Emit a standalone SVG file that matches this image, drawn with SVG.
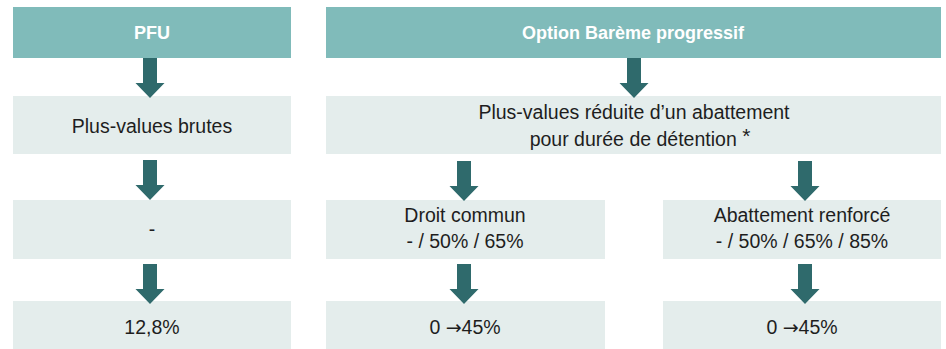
<svg xmlns="http://www.w3.org/2000/svg" width="946" height="349" viewBox="0 0 946 349">
<defs>
<style>
.hdr{fill:#80BBBA;}
.box{fill:#E4EDEC;}
.ht{font-family:"Liberation Sans",Arial,sans-serif;font-weight:bold;font-size:18px;fill:#ffffff;text-anchor:middle;}
.bt{font-family:"Liberation Sans",Arial,sans-serif;font-size:19.5px;fill:#1e1e1e;text-anchor:middle;}
.ar{font-family:"DejaVu Sans",sans-serif;font-size:19px;}
.arr{fill:#2F6A6C;}
</style>
<path id="arrow" class="arr" d="M-7,0 H7 V25 H14.5 L0,40 L-14.5,25 H-7 Z"/>
</defs>
<rect width="946" height="349" fill="#ffffff"/>
<g id="pfu">
<rect class="hdr" x="13" y="7" width="278" height="51"/>
<text class="ht" x="152" y="39">PFU</text>
</g>
<g id="bareme">
<rect class="hdr" x="326" y="7" width="615" height="51"/>
<text class="ht" x="633" y="39">Option Barème progressif</text>
</g>
<g id="pv-brutes">
<rect class="box" x="13" y="96" width="278" height="58"/>
<text class="bt" x="152" y="133">Plus-values brutes</text>
</g>
<g id="pv-reduite">
<rect class="box" x="326" y="96" width="615" height="58"/>
<text class="bt" x="634" y="119">Plus-values réduite d’un abattement</text>
<text class="bt" x="640" y="146">pour durée de détention <tspan font-size="21" dy="-3">*</tspan></text>
</g>
<g id="pfu-abattement">
<rect class="box" x="13" y="200" width="278" height="59"/>
<text class="bt" x="152" y="236">-</text>
</g>
<g id="droit-commun">
<rect class="box" x="326" y="200" width="279" height="59"/>
<text class="bt" x="465" y="222">Droit commun</text>
<text class="bt" x="465" y="248">- / 50% / 65%</text>
</g>
<g id="abattement-renforce">
<rect class="box" x="663" y="200" width="278" height="59"/>
<text class="bt" x="802" y="222">Abattement renforcé</text>
<text class="bt" x="802" y="248">- / 50% / 65% / 85%</text>
</g>
<g id="taux-pfu">
<rect class="box" x="13" y="301" width="278" height="48"/>
<text class="bt" x="152" y="334">12,8%</text>
</g>
<g id="taux-dc">
<rect class="box" x="326" y="301" width="279" height="48"/>
<text class="bt" x="465" y="334">0 <tspan class="ar">→</tspan>45%</text>
</g>
<g id="taux-ar">
<rect class="box" x="663" y="301" width="278" height="48"/>
<text class="bt" x="802" y="334">0 <tspan class="ar">→</tspan>45%</text>
</g>
<g id="connectors">
<use href="#arrow" x="150" y="58"/>
<use href="#arrow" x="150" y="160"/>
<use href="#arrow" x="150" y="264"/>
<use href="#arrow" x="634" y="58"/>
<use href="#arrow" x="464" y="161"/>
<use href="#arrow" x="805" y="161"/>
<use href="#arrow" x="464" y="264"/>
<use href="#arrow" x="805" y="264"/>
</g>
</svg>
